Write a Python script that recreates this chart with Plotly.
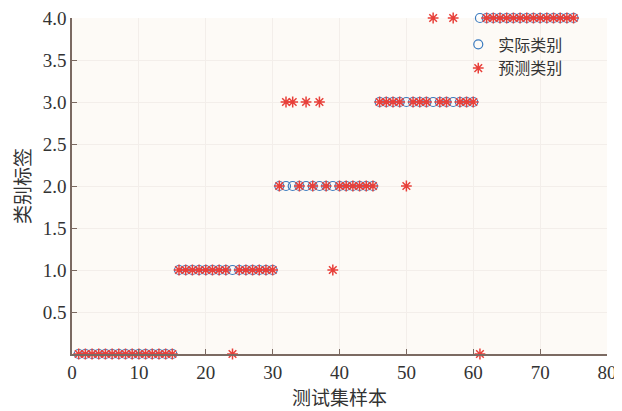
import plotly.graph_objects as go

samples = list(range(1, 76))
actual = [0]*15 + [1]*15 + [2]*15 + [3]*15 + [4]*15
predicted = list(actual)
# misclassified samples
errors = {24: 0, 32: 3, 33: 3, 35: 3, 37: 3, 39: 1, 50: 2, 54: 4, 57: 4, 61: 0}
for s, v in errors.items():
    predicted[s - 1] = v

x_ticks = [0, 10, 20, 30, 40, 50, 60, 70, 80]
y_ticks = [0.5, 1.0, 1.5, 2.0, 2.5, 3.0, 3.5, 4.0]
y_labels = ["0.5", "1.0", "1.5", "2.0", "2.5", "3.0", "3.5", "4.0"]

serif = "Liberation Serif"
cjk = "Noto Sans CJK SC"
axis_col = "#7b6a62"
txt_col = "#333333"

fig = go.Figure()
fig.add_trace(go.Scatter(
    x=samples, y=actual, mode="markers", name="实际类别",
    marker=dict(symbol="circle-open", size=9, color="#3b7bbf", line=dict(width=1.2)),
    cliponaxis=False,
))
fig.add_trace(go.Scatter(
    x=samples, y=predicted, mode="markers", name="预测类别",
    marker=dict(symbol="asterisk-open", size=9, color="#e8403a", line=dict(width=1.5, color="#e8403a")),
    cliponaxis=False,
))

fig.update_layout(
    width=614, height=403,
    margin=dict(l=64, r=15, t=10, b=57),
    paper_bgcolor="white",
    plot_bgcolor="#fdfaf6",
    font=dict(family=serif, size=16, color=txt_col),
    showlegend=True,
    legend=dict(x=0.722, y=0.972, xanchor="left", yanchor="top",
                bgcolor="rgba(0,0,0,0)", font=dict(family=cjk, size=16, color=txt_col),
                itemwidth=30, tracegroupgap=0),
)
fig.update_xaxes(
    range=[0, 80], tickvals=x_ticks, ticks="inside", ticklen=5, tickcolor=axis_col,
    showline=True, linecolor=axis_col, linewidth=1.5, mirror=False,
    showgrid=True, gridcolor="#f3eeea", gridwidth=1, zeroline=False, automargin=False,
    ticklabeloverflow="allow",
    title=dict(text="测试集样本", font=dict(family=cjk, size=19, color=txt_col), standoff=8),
    tickfont=dict(family=serif, size=19, color=txt_col),
)
fig.update_yaxes(
    range=[0, 4], tickvals=y_ticks, ticktext=y_labels, ticks="inside", ticklen=5, tickcolor=axis_col,
    showline=True, linecolor=axis_col, linewidth=1.5, mirror=False,
    showgrid=True, gridcolor="#f3eeea", gridwidth=1, zeroline=False, automargin=False,
    ticklabeloverflow="allow",
    title=dict(text="类别标签", font=dict(family=cjk, size=19, color=txt_col), standoff=8),
    tickfont=dict(family=serif, size=19, color=txt_col),
)

fig.write_html("out.html")
